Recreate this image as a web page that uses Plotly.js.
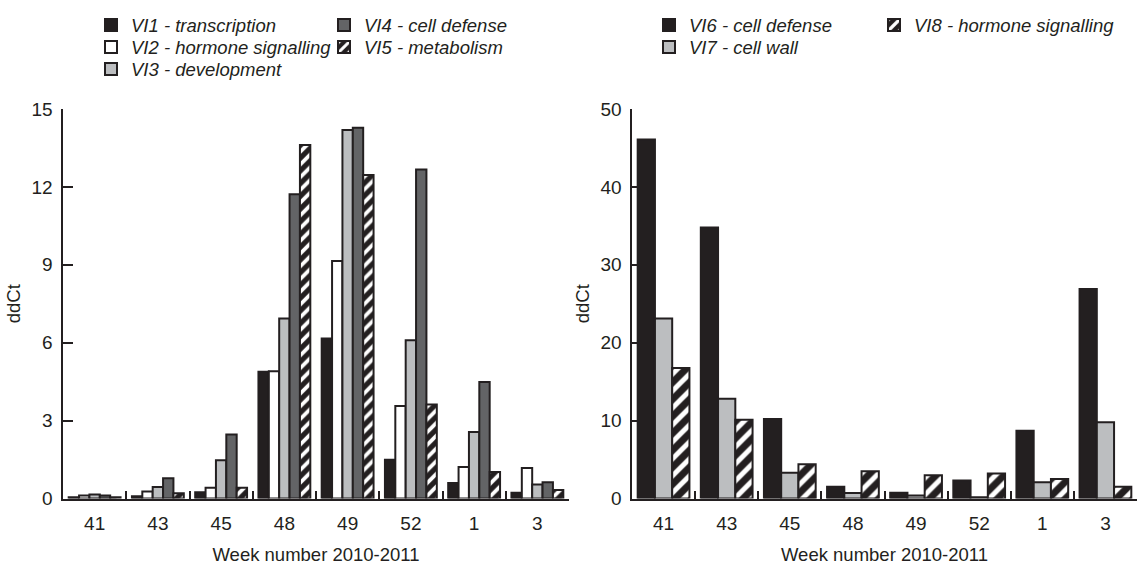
<!DOCTYPE html>
<html><head><meta charset="utf-8">
<script src="https://cdn.plot.ly/plotly-3.0.1.min.js"></script>
<style>html,body{margin:0;padding:0;background:#fff}#chart{width:1145px;height:568px}</style>
</head><body><div id="chart"></div>
<script>
// ---- data ----
const weeks = ['41', '43', '45', '48', '49', '52', '1', '3'];

const leftNames = ['VI1 - transcription', 'VI2 - hormone signalling', 'VI3 - development', 'VI4 - cell defense', 'VI5 - metabolism'];
const VI1 = [0.05, 0.09, 0.24, 4.88, 6.16, 1.49, 0.60, 0.22];
const VI2 = [0.12, 0.27, 0.41, 4.90, 9.15, 3.56, 1.21, 1.17];
const VI3 = [0.15, 0.44, 1.47, 6.93, 14.19, 6.09, 2.56, 0.54];
const VI4 = [0.12, 0.78, 2.46, 11.72, 14.28, 12.67, 4.49, 0.63];
const VI5 = [0.05, 0.20, 0.41, 13.61, 12.46, 3.62, 1.02, 0.33];

const rightNames = ['VI6 - cell defense', 'VI7 - cell wall', 'VI8 - hormone signalling'];
const VI6 = [46.1, 34.8, 10.2, 1.5, 0.75, 2.3, 8.7, 26.9];
const VI7 = [23.1, 12.8, 3.3, 0.7, 0.4, 0.15, 2.1, 9.8];
const VI8 = [16.75, 10.1, 4.4, 3.5, 3.0, 3.2, 2.5, 1.5];

const leftTicks = [0, 3, 6, 9, 12, 15];
const rightTicks = [0, 10, 20, 30, 40, 50];
const yTitle = 'ddCt';
const xTitle = 'Week number 2010-2011';

// ---- styling ----
const W = 1145, H = 568;
const px = x => x / W;
const py = y => (H - y) / H;
const INK = '#231f20';
const FONT = 'Liberation Sans, Arial, Helvetica, sans-serif';
const BLACK = '#231f20', WHITE = '#ffffff', LIGHT = '#bcbec0', DARK = '#636466';

function bar(name, y, color, xa, ya, legend, hatchSize) {
  const marker = {color: color, line: {color: INK, width: 2}};
  if (hatchSize) {
    marker.pattern = {shape: '/', bgcolor: BLACK, fgcolor: WHITE, fgopacity: 1,
                      size: hatchSize, solidity: 0.42, fillmode: 'replace'};
  }
  return {type: 'bar', name: name, x: weeks, y: y, xaxis: xa, yaxis: ya,
          marker: marker, legend: legend, showlegend: true, hoverinfo: 'x+y+name'};
}

const data = [
  bar(leftNames[0], VI1, BLACK, 'x', 'y', 'legend'),
  bar(leftNames[1], VI2, WHITE, 'x', 'y', 'legend2'),
  bar(leftNames[2], VI3, LIGHT, 'x', 'y', 'legend3'),
  bar(leftNames[3], VI4, DARK, 'x', 'y', 'legend4'),
  bar(leftNames[4], VI5, BLACK, 'x', 'y', 'legend5', 9),
  bar(rightNames[0], VI6, BLACK, 'x2', 'y2', 'legend6'),
  bar(rightNames[1], VI7, LIGHT, 'x2', 'y2', 'legend7'),
  bar(rightNames[2], VI8, BLACK, 'x2', 'y2', 'legend8', 12)
];

const legFont = {family: FONT, size: 18.5, style: 'italic', color: INK};
function leg(symX, rowY) {
  return {x: px(symX - 20), y: py(rowY - 18.5), xanchor: 'left', yanchor: 'top',
          font: legFont, bgcolor: 'rgba(0,0,0,0)', borderwidth: 0, visible: true};
}

const tickFont = {family: FONT, size: 19, color: INK};
function xaxis(domain, anchor) {
  return {domain: domain, anchor: anchor, type: 'category', range: [-0.5, 7.5],
          tickson: 'boundaries', ticks: 'inside', ticklen: 8, tickwidth: 2, tickcolor: INK,
          showline: true, linecolor: INK, linewidth: 2.5, showgrid: false, zeroline: false,
          tickfont: tickFont, ticklabelstandoff: 6, automargin: false, fixedrange: true,
          title: {text: xTitle, font: {family: FONT, size: 18.5, color: INK}, standoff: 16}};
}
function yaxis(anchor, max, ticks) {
  return {domain: [py(498.5), py(109)], anchor: anchor, range: [0, max],
          tickmode: 'array', tickvals: ticks, ticks: 'inside', ticklen: 10, tickwidth: 2, tickcolor: INK,
          showline: true, linecolor: INK, linewidth: 2.5, showgrid: false, zeroline: false,
          tickfont: tickFont, ticklabelstandoff: 4, automargin: false, fixedrange: true,
          title: {text: yTitle, font: {family: FONT, size: 18.5, color: INK}, standoff: 6}};
}

const layout = {
  width: W, height: H,
  margin: {l: 0, r: 0, t: 0, b: 0},
  showlegend: true,
  paper_bgcolor: '#ffffff', plot_bgcolor: '#ffffff',
  barmode: 'group', bargap: 0.18, bargroupgap: 0,
  font: {family: FONT, color: INK},
  xaxis: xaxis([px(63), px(569)], 'y'),
  yaxis: yaxis('x', 15, leftTicks),
  xaxis2: xaxis([px(632), px(1137)], 'y2'),
  yaxis2: yaxis('x2', 50, rightTicks),
  legend: leg(111, 25),
  legend2: leg(111, 47),
  legend3: leg(111, 69),
  legend4: leg(344, 25),
  legend5: leg(344, 47),
  legend6: leg(669, 25),
  legend7: leg(669, 47),
  legend8: leg(894, 25)
};

Plotly.newPlot('chart', data, layout, {displayModeBar: false, staticPlot: true});
</script>
</body></html>
